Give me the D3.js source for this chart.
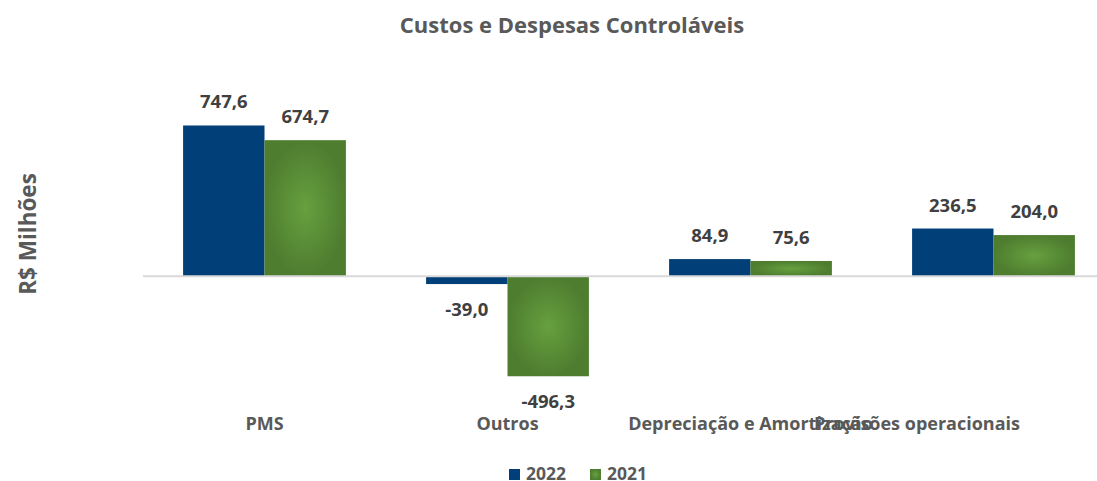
<!DOCTYPE html>
<html>
<head>
<meta charset="utf-8">
<script src="https://cdn.jsdelivr.net/npm/d3@7"></script>
<style>
  body { margin: 0; background: #fff; }
  text { font-family: "Open Sans", sans-serif; font-weight: bold; }
</style>
</head>
<body>
<div id="chart"></div>
<script>
const categories = ["PMS", "Outros", "Depreciação e Amortização", "Provisões operacionais"];
const seriesNames = ["2022", "2021"];
const values2022 = [747.6, -39.0, 84.9, 236.5];
const values2021 = [674.7, -496.3, 75.6, 204.0];

const width = 1097, height = 481;
const colors = { "2022": "#003f77", "2021": "url(#greenGrad)" };

const svg = d3.select("#chart").append("svg")
    .attr("width", width)
    .attr("height", height);

// radial fill for the green series
const grad = svg.append("defs").append("radialGradient")
    .attr("id", "greenGrad");
grad.append("stop").attr("offset", "0%").attr("stop-color", "#66a03f");
grad.append("stop").attr("offset", "100%").attr("stop-color", "#4e7d2f");

const data = categories.map((c, i) => ({ cat: c, values: [values2022[i], values2021[i]] }));

// x scales
const x0 = d3.scaleBand().domain(categories).range([143, 1115]).paddingInner(0.33).paddingOuter(0.165);
const x1 = d3.scaleBand().domain(seriesNames).range([0, x0.bandwidth()]);

// y scale
const y = d3.scaleLinear().domain([-500, 750]).range([377, 125]);

// title
svg.append("text")
    .attr("x", 572).attr("y", 33)
    .attr("text-anchor", "middle")
    .style("font-size", "22px")
    .style("fill", "#595959")
    .text("Custos e Despesas Controláveis");

// y label
svg.append("text")
    .attr("transform", "translate(36, 234) rotate(-90)")
    .attr("text-anchor", "middle")
    .style("font-size", "22.5px")
    .style("fill", "#595959")
    .text("R$ Milhões");

// bars
const groups = svg.selectAll(".cat")
    .data(data)
    .enter().append("g")
    .attr("class", "cat")
    .attr("transform", (d) => `translate(${x0(d.cat)}, 0)`);

groups.selectAll("rect")
    .data((d) => d.values.map((v, i) => ({ key: seriesNames[i], v: v })))
    .enter().append("rect")
    .attr("x", (d) => x1(d.key))
    .attr("width", x1.bandwidth())
    .attr("y", (d) => y(Math.max(0, d.v)))
    .attr("height", (d) => Math.abs(y(d.v) - y(0)))
    .style("fill", (d) => colors[d.key]);

// zero line
svg.append("line")
    .attr("x1", 143).attr("x2", width)
    .attr("y1", y(0)).attr("y2", y(0))
    .style("stroke", "#d9d9d9").style("stroke-width", 2);

// value labels
groups.selectAll(".val")
    .data((d) => d.values.map((v, i) => ({ key: seriesNames[i], v: v })))
    .enter().append("text")
    .attr("class", "val")
    .attr("x", (d) => x1(d.key) + x1.bandwidth() / 2)
    .attr("y", (d) => d.v >= 0 ? y(d.v) - 17 : y(d.v) + 32)
    .attr("text-anchor", "middle")
    .style("font-size", "18.5px")
    .style("fill", "#404040")
    .text((d) => d3.format(".1f")(d.v).replace(".", ",").replace("−", "-"));

// category labels (last one pushed left, as in the original where it was clipped)
svg.selectAll(".catlabel")
    .data(categories)
    .enter().append("text")
    .attr("class", "catlabel")
    .attr("x", (d, i) => i === categories.length - 1 ? 1020 : x0(d) + x0.bandwidth() / 2)
    .attr("y", 430)
    .attr("text-anchor", (d, i) => i === categories.length - 1 ? "end" : "middle")
    .style("font-size", "18px")
    .style("fill", "#595959")
    .text((d) => d);

// legend
const legend = svg.selectAll(".legend")
    .data(seriesNames)
    .enter().append("g")
    .attr("class", "legend")
    .attr("transform", (d, i) => `translate(${509 + i * 81}, 469)`);
legend.append("rect")
    .attr("width", 11).attr("height", 11)
    .style("fill", (d) => colors[d]);
legend.append("text")
    .attr("x", 17).attr("y", 10.5)
    .style("font-size", "17.5px")
    .style("fill", "#595959")
    .text((d) => d);
</script>
</body>
</html>
